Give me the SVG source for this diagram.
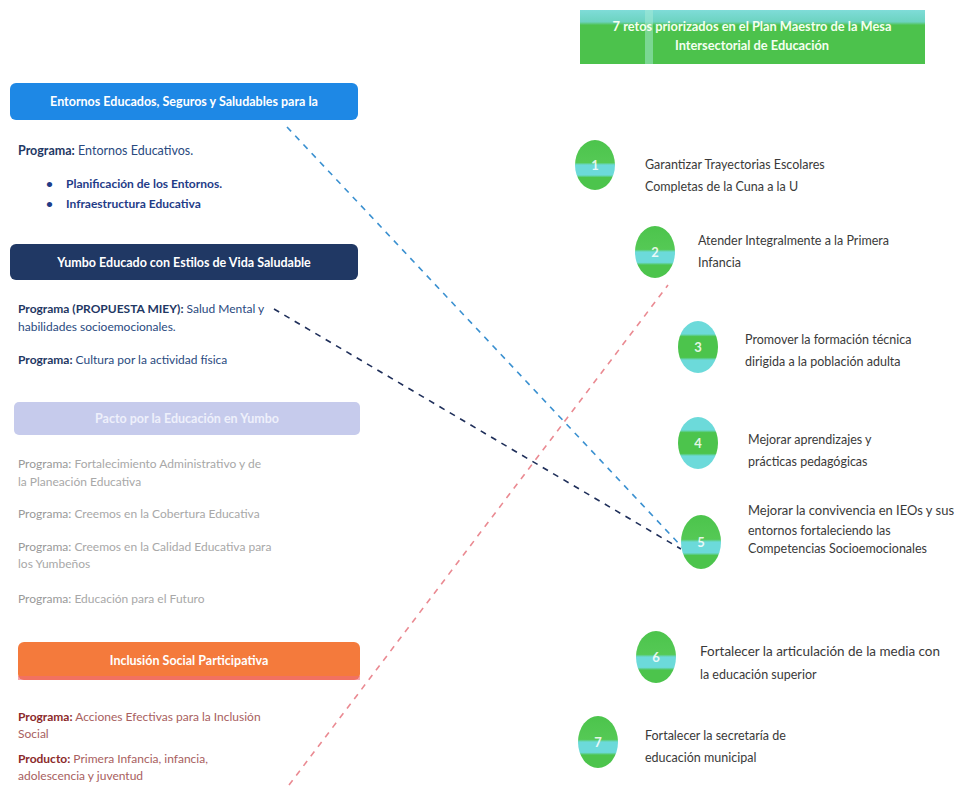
<svg xmlns="http://www.w3.org/2000/svg" width="956" height="792" viewBox="0 0 956 792">
<defs>
<style>
text{font-family:Lato,"Liberation Sans",sans-serif}
.hdr{font-size:12.5px;font-weight:bold;fill:#fff;text-anchor:middle}
.ttl{font-size:12.8px;font-weight:bold;fill:#f4fff0;text-anchor:middle}
.lt{font-size:12px;fill:#2a4a80}
.lb{font-weight:bold;fill:#1f3864}
.bul{font-size:12px;font-weight:bold;fill:#1f3c88}
.gr{font-size:12px;fill:#a8a8a8}
.grb{fill:#999}
.rd{font-size:12px;fill:#a86060}
.rdb{font-weight:bold;fill:#8b2a2a}
.rt{font-size:12.5px;fill:#3a3a3a}
.num{font-size:13px;font-weight:bold;fill:#fff;text-anchor:middle;opacity:0.85}
.cn{fill:none;stroke-width:1.6;stroke-dasharray:6 6}
</style>
<linearGradient id="gA" x1="0" y1="0" x2="0" y2="1">
<stop offset="0" stop-color="#4cc44c"/><stop offset="0.45" stop-color="#55c955"/><stop offset="0.5" stop-color="#6cdada"/><stop offset="0.7" stop-color="#6cdada"/><stop offset="0.75" stop-color="#4cc44c"/><stop offset="1" stop-color="#4cc44c"/>
</linearGradient>
<linearGradient id="gB" x1="0" y1="0" x2="0" y2="1">
<stop offset="0" stop-color="#6cdada"/><stop offset="0.25" stop-color="#6cdada"/><stop offset="0.3" stop-color="#4cc44c"/><stop offset="0.7" stop-color="#4cc44c"/><stop offset="0.75" stop-color="#6cdada"/><stop offset="1" stop-color="#6cdada"/>
</linearGradient>
<linearGradient id="gT" x1="0" y1="0" x2="0" y2="1">
<stop offset="0" stop-color="#7fdcd8"/><stop offset="0.22" stop-color="#6cd3c0"/><stop offset="0.28" stop-color="#4cc24c"/><stop offset="1" stop-color="#4cc24c"/>
</linearGradient>
</defs>

<g id="title">
<rect x="580" y="10" width="345" height="54" fill="url(#gT)"/>
<rect x="645" y="10" width="8" height="54" fill="#a8ecd8" opacity="0.5"/>
<text x="752" y="31" class="ttl">7 retos priorizados en el Plan Maestro de la Mesa</text>
<text x="752" y="50" class="ttl">Intersectorial de Educación</text>
</g>

<g id="eje1">
<rect x="10" y="83" width="348" height="37" rx="6" fill="#1e88e5"/>
<text x="184" y="106" class="hdr">Entornos Educados, Seguros y Saludables para la</text>
<text x="18" y="155" class="lt" style="font-size:12.5px"><tspan class="lb">Programa:</tspan> Entornos Educativos.</text>
<text x="46" y="188" class="bul">•</text>
<text x="66" y="188" class="bul">Planificación de los Entornos.</text>
<text x="46" y="208" class="bul">•</text>
<text x="66" y="208" class="bul">Infraestructura Educativa</text>
</g>

<g id="eje2">
<rect x="10" y="244" width="348" height="36" rx="6" fill="#203864"/>
<text x="184" y="267" class="hdr">Yumbo Educado con Estilos de Vida Saludable</text>
<text x="18" y="313" class="lt"><tspan class="lb">Programa (PROPUESTA MIEY):</tspan> Salud Mental y</text>
<text x="18" y="331" class="lt">habilidades socioemocionales.</text>
<text x="18" y="364" class="lt"><tspan class="lb">Programa:</tspan> Cultura por la actividad física</text>
</g>

<g id="eje3">
<rect x="14" y="402" width="346" height="33" rx="5" fill="#c6cbec"/>
<text x="187" y="423" class="hdr" style="fill:#eef0fb">Pacto por la Educación en Yumbo</text>
<text x="18" y="468" class="gr"><tspan class="grb">Programa:</tspan> Fortalecimiento Administrativo y de</text>
<text x="18" y="486" class="gr">la Planeación Educativa</text>
<text x="18" y="518" class="gr"><tspan class="grb">Programa:</tspan> Creemos en la Cobertura Educativa</text>
<text x="18" y="551" class="gr"><tspan class="grb">Programa:</tspan> Creemos en la Calidad Educativa para</text>
<text x="18" y="568" class="gr">los Yumbeños</text>
<text x="18" y="603" class="gr"><tspan class="grb">Programa:</tspan> Educación para el Futuro</text>
</g>

<g id="eje4">
<rect x="18" y="642" width="342" height="38" rx="6" fill="#f47a3c"/>
<rect x="18" y="676" width="342" height="4" fill="#ee6a7a" opacity="0.6"/>
<text x="189" y="665" class="hdr">Inclusión Social Participativa</text>
<text x="18" y="721" class="rd"><tspan class="rdb">Programa:</tspan> Acciones Efectivas para la Inclusión</text>
<text x="18" y="738" class="rd">Social</text>
<text x="18" y="763" class="rd"><tspan class="rdb">Producto:</tspan> Primera Infancia, infancia,</text>
<text x="18" y="780" class="rd">adolescencia y juventud</text>
</g>

<g id="connectors">
<line class="cn" x1="287" y1="127" x2="683" y2="548" stroke="#3a90d0"/>
<line class="cn" x1="274" y1="309" x2="681" y2="549" stroke="#1f2f5a"/>
<line class="cn" x1="289" y1="785" x2="668" y2="285" stroke="#ea8a92"/>
</g>

<g id="reto1">
<ellipse cx="595" cy="165" rx="20" ry="25" fill="url(#gA)"/>
<text x="595" y="170" class="num">1</text>
<text x="645" y="169" class="rt">Garantizar Trayectorias Escolares</text>
<text x="645" y="191" class="rt">Completas de la Cuna a la U</text>
</g>
<g id="reto2">
<ellipse cx="655" cy="252" rx="20" ry="26" fill="url(#gA)"/>
<text x="655" y="257" class="num">2</text>
<text x="698" y="245" class="rt">Atender Integralmente a la Primera</text>
<text x="698" y="267" class="rt">Infancia</text>
</g>
<g id="reto3">
<ellipse cx="698" cy="347" rx="20" ry="26" fill="url(#gB)"/>
<text x="698" y="352" class="num">3</text>
<text x="745" y="344" class="rt">Promover la formación técnica</text>
<text x="745" y="366" class="rt">dirigida a la población adulta</text>
</g>
<g id="reto4">
<ellipse cx="698" cy="443" rx="20" ry="26" fill="url(#gB)"/>
<text x="698" y="448" class="num">4</text>
<text x="748" y="444" class="rt">Mejorar aprendizajes y</text>
<text x="748" y="466" class="rt">prácticas pedagógicas</text>
</g>
<g id="reto5">
<ellipse cx="701" cy="542" rx="20" ry="27" fill="url(#gA)"/>
<text x="701" y="547" class="num">5</text>
<text x="748" y="515" class="rt" textLength="206" lengthAdjust="spacingAndGlyphs">Mejorar la convivencia en IEOs y sus</text>
<text x="748" y="535" class="rt">entornos fortaleciendo las</text>
<text x="748" y="553" class="rt">Competencias Socioemocionales</text>
</g>
<g id="reto6">
<ellipse cx="656" cy="657" rx="20" ry="26" fill="url(#gA)"/>
<text x="656" y="662" class="num">6</text>
<text x="700" y="656" class="rt" textLength="240" lengthAdjust="spacingAndGlyphs">Fortalecer la articulación de la media con</text>
<text x="700" y="679" class="rt">la educación superior</text>
</g>
<g id="reto7">
<ellipse cx="598" cy="742" rx="20" ry="26" fill="url(#gA)"/>
<text x="598" y="747" class="num">7</text>
<text x="645" y="740" class="rt">Fortalecer la secretaría de</text>
<text x="645" y="762" class="rt">educación municipal</text>
</g>
</svg>
